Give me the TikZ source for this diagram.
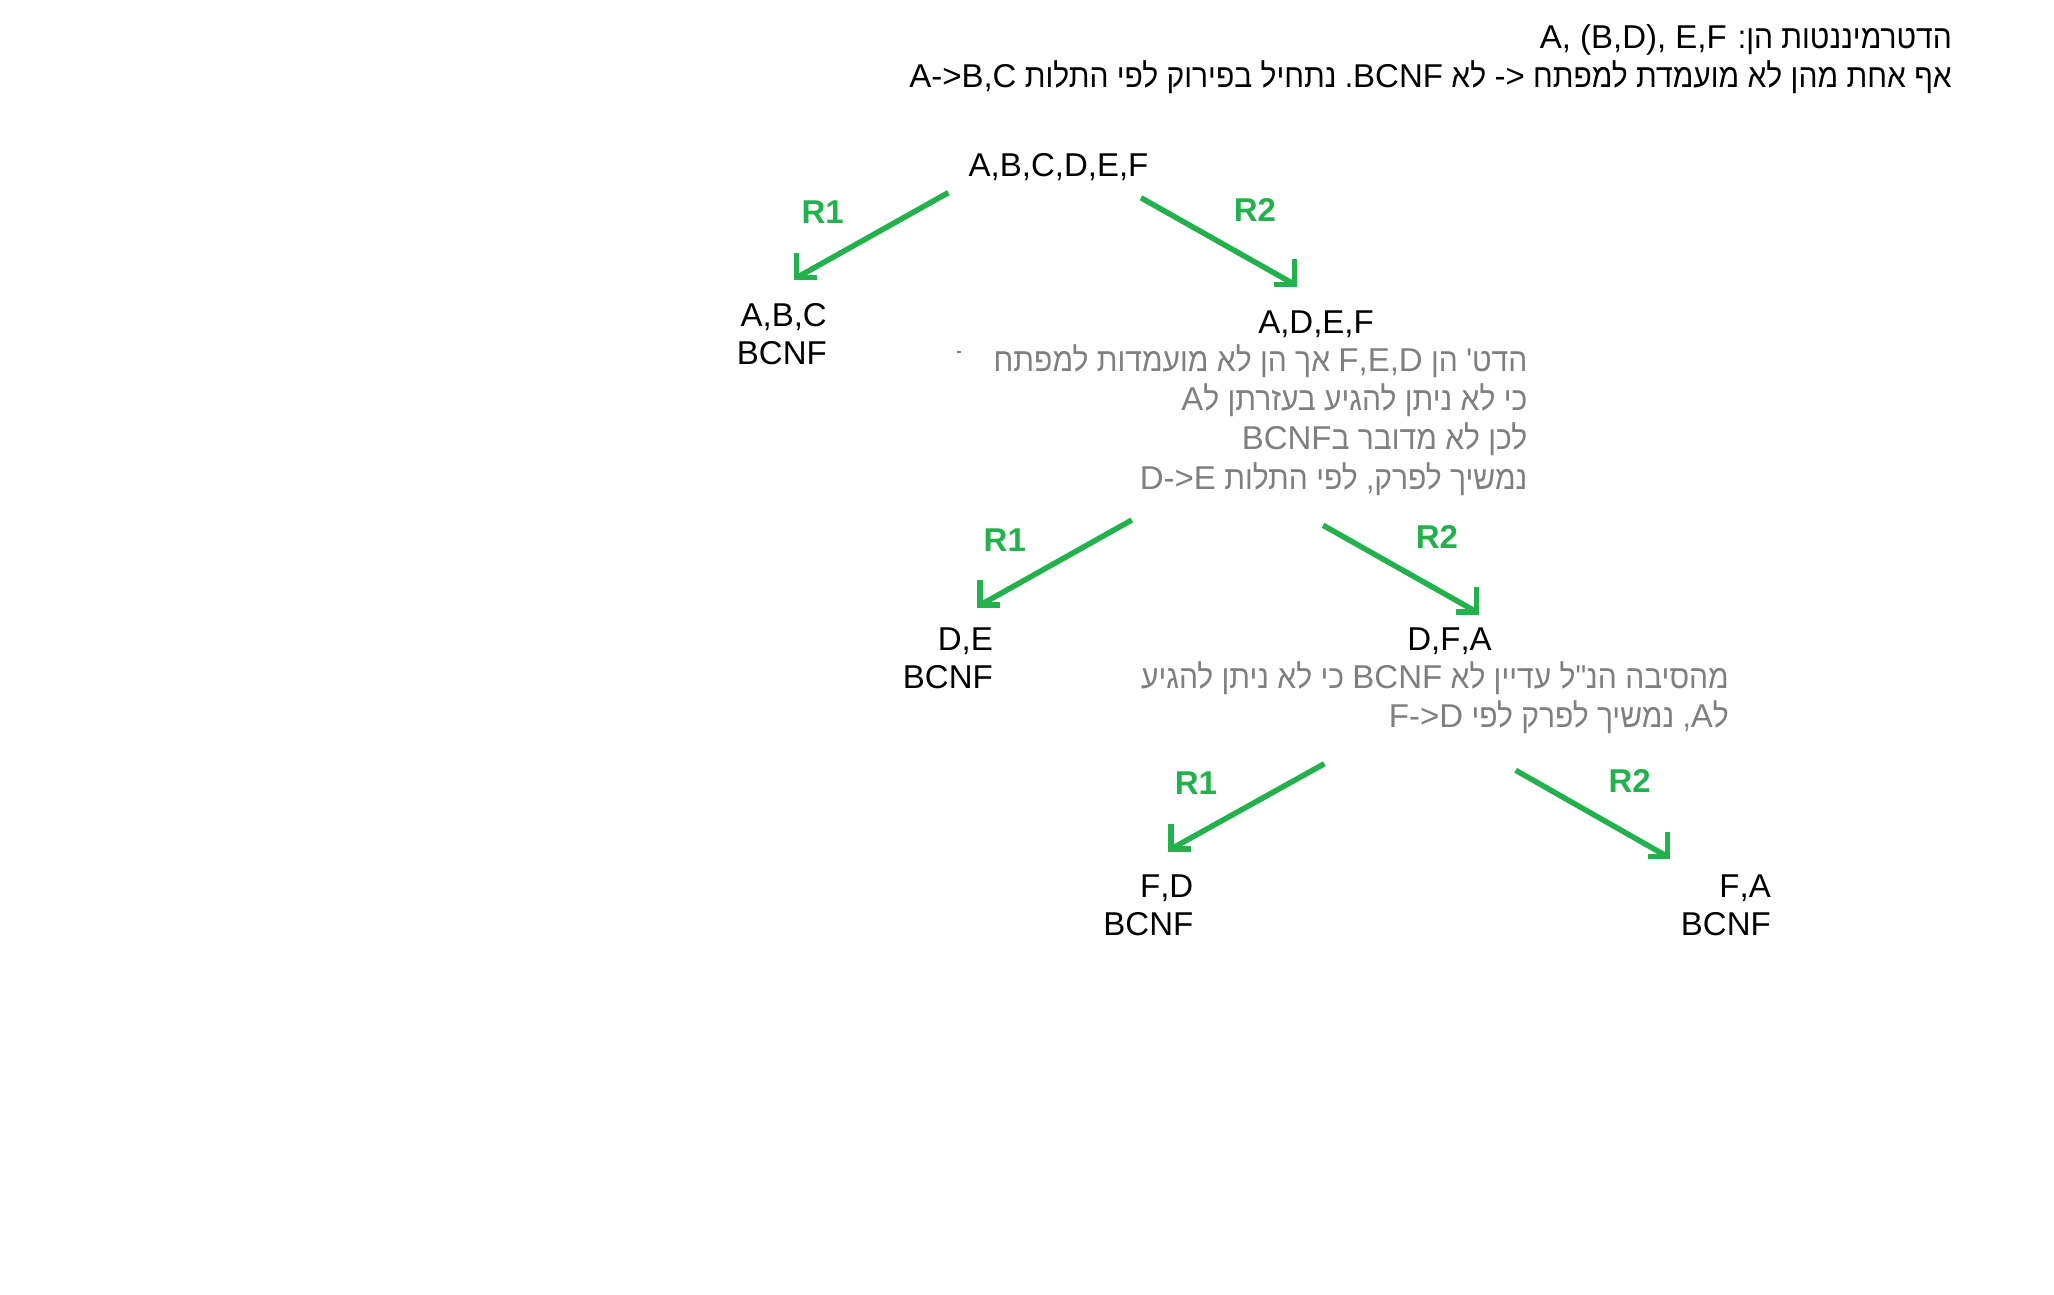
\documentclass[tikz,border=0pt]{standalone}
\usepackage{fontspec}
\setmainfont{Liberation Sans}
\newfontfamily\heb[Script=Hebrew]{Liberation Sans}
\newfontfamily\hebn[Script=Hebrew,FakeStretch=0.91]{Liberation Sans}
\TeXXeTstate=1
\definecolor{pgreen}{RGB}{34,177,76}
\definecolor{pgray}{RGB}{127,127,127}
\newcommand{\lt}[1]{\beginL{\heb #1}\endL}
\tikzset{
  txt/.style={inner sep=0pt, font=\heb\fontsize{33}{39}\selectfont, text=black},
  rtl/.style={inner sep=0pt, font=\hebn\fontsize{33}{39}\selectfont, text=black},
  note/.style={rtl, text=pgray},
  lbl/.style={inner sep=0pt, font=\heb\bfseries\fontsize{33}{39}\selectfont, text=pgreen},
  garrow/.style={draw=pgreen, line width=5.5pt, line cap=butt, line join=miter}
}
\begin{document}
\begin{tikzpicture}[x=1pt,y=-1pt]
\fill[white] (0,0) rectangle (2054,1295);
\useasboundingbox (0,0) rectangle (2054,1295);

% header
\node[rtl, anchor=base east] (h1) at (1952,48.5) {\beginR הדטרמיננטות הן: \lt{A, (B,D), E,F}\endR};
\node[rtl, anchor=base east] (h2) at (1952,88) {\beginR אף אחת מהן לא מועמדת למפתח \lt{<-} לא \lt{BCNF}\beginL.\endL{} נתחיל בפירוק לפי התלות \lt{A->B,C}\endR};

% level 0
\node[txt, anchor=base] (root) at (1058.5,177) {A,B,C,D,E,F};

% level 1
\node[txt, anchor=base east] (abc) at (827,326) {A,B,C};
\node[txt, anchor=base east] (abcb) at (827,364) {BCNF};
\node[txt, anchor=base] (adef) at (1316,333) {A,D,E,F};
\node[note, anchor=base east] (n1a) at (1527.5,371) {\beginR הדט' הן \lt{F,E,D} אך הן לא מועמדות למפתח\endR};
\node[note, anchor=base east] (n1b) at (1527.5,410) {\beginR כי לא ניתן להגיע בעזרתן ל\lt{A}\endR};
\node[note, anchor=base east] (n1c) at (1527.5,449.5) {\beginR לכן לא מדובר ב\lt{BCNF}\endR};
\node[note, anchor=base east] (n1d) at (1527.5,489) {\beginR נמשיך לפרק, לפי התלות \lt{D->E}\endR};

% level 2
\node[txt, anchor=base east] (de) at (993,650) {D,E};
\node[txt, anchor=base east] (deb) at (993,688) {BCNF};
\node[txt, anchor=base] (dfa) at (1449.5,650) {D,F,A};
\node[note, anchor=base east] (n2a) at (1729,688) {\beginR מהסיבה הנ"ל עדיין לא \lt{BCNF} כי לא ניתן להגיע\endR};
\node[note, anchor=base east] (n2b) at (1729,727) {\beginR ל\lt{A}, נמשיך לפרק לפי \lt{F->D}\endR};

% level 3
\node[txt, anchor=base east] (fd) at (1193.5,897.5) {F,D};
\node[txt, anchor=base east] (fdb) at (1193.5,935.5) {BCNF};
\node[txt, anchor=base east] (fa) at (1771,897.5) {F,A};
\node[txt, anchor=base east] (fab) at (1771,935.5) {BCNF};

% labels
\node[lbl] (l1) at (822.7,212.2) {R1};
\node[lbl] (l2) at (1255,209.6) {R2};
\node[lbl] (l3) at (1004.8,539.7) {R1};
\node[lbl] (l4) at (1437,537.1) {R2};
\node[lbl] (l5) at (1196,783.4) {R1};
\node[lbl] (l6) at (1629.6,780.8) {R2};

% arrow end points
\coordinate (s1) at (948.4,192.6);  \coordinate (e1) at (796.5,277.7);
\coordinate (s2) at (1141,197.8);   \coordinate (e2) at (1294.3,284.3);
\coordinate (s3) at (1131.8,520);   \coordinate (e3) at (979.9,605.2);
\coordinate (s4) at (1323.1,525.3); \coordinate (e4) at (1476.4,611.8);
\coordinate (s5) at (1324.4,763.7); \coordinate (e5) at (1171.1,848.9);
\coordinate (s6) at (1515.7,770.3); \coordinate (e6) at (1667.6,856.7);

\foreach \s/\e in {s1/e1,s3/e3,s5/e5}{
  \draw[garrow] (\s) -- (\e);
  \draw[garrow] (\e) ++(0,-25) -- (\e) -- ++(20,0);
}
\foreach \s/\e in {s2/e2,s4/e4,s6/e6}{
  \draw[garrow] (\s) -- (\e);
  \draw[garrow] (\e) ++(0,-25) -- (\e) -- ++(-20,0);
}

% small speck
\draw[pgray, line width=1.2pt] (957,352) -- (961,352);
\end{tikzpicture}
\end{document}
